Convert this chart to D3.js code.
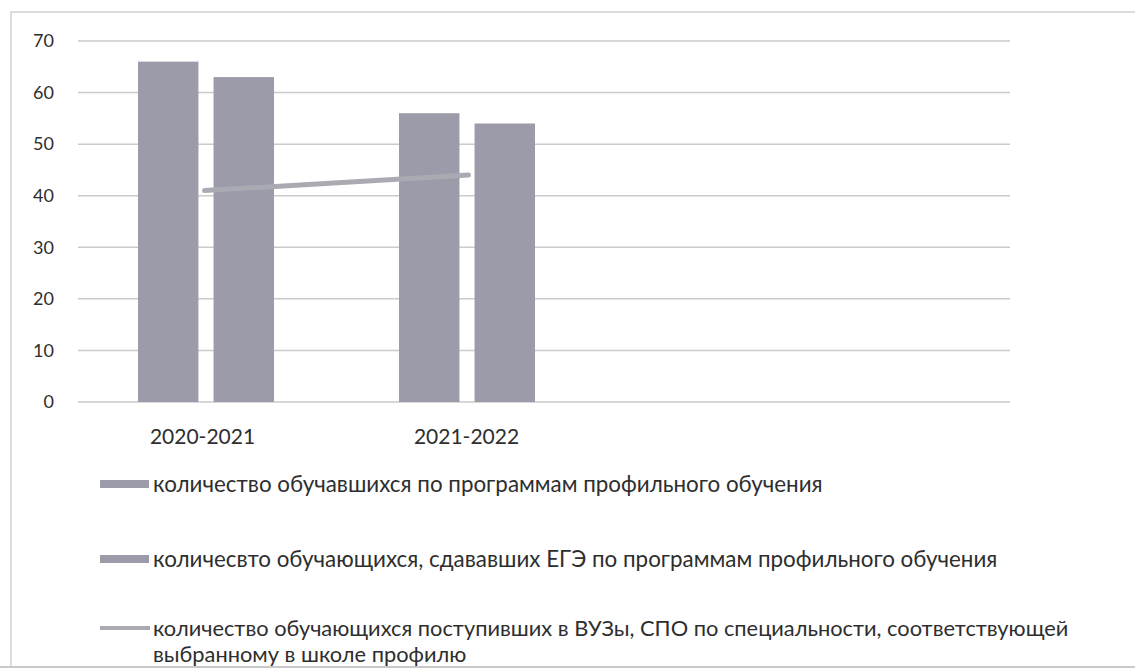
<!DOCTYPE html>
<html><head><meta charset="utf-8">
<script src="https://cdn.jsdelivr.net/npm/d3@7/dist/d3.min.js"></script>
<style>body{margin:0;background:#fff}svg{display:block}</style>
</head><body>
<svg id="c" width="1135" height="669"></svg>
<script>
const categories = ["2020-2021", "2021-2022"];
const seriesNames = [
  "количество обучавшихся по программам профильного обучения",
  "количесвто обучающихся, сдававших ЕГЭ по программам профильного обучения",
  "количество обучающихся поступивших в ВУЗы, СПО по специальности, соответствующей выбранному в школе профилю"
];
const studied = [66, 56];
const passedExam = [63, 54];
const enrolled = [41, 44];
const yTicks = [0, 10, 20, 30, 40, 50, 60, 70];

const svg = d3.select("#c");
const font = "Lato, 'Open Sans', sans-serif";
const barColor = "#9b9ba9", lineColor = "#aaaab3", gridColor = "#cbcbcb", textColor = "#2e2e2e";

const plotL = 75, plotR = 1010, bandW = 261;
const x = d3.scaleBand().domain(categories).range([plotL, plotL + bandW * categories.length]);
const y = d3.scaleLinear().domain([0, 70]).range([402, 41]);
const inner = d3.scaleBand().domain([0, 1]).range([63, bandW - 62]).paddingInner(0.2);

// gridlines
svg.append("g").selectAll("line").data(yTicks).join("line")
  .attr("x1", 78).attr("x2", plotR)
  .attr("y1", d => y(d)).attr("y2", d => y(d))
  .attr("stroke", gridColor).attr("stroke-width", 1.5);

// y axis labels
const yAxis = d3.axisLeft(y).tickValues(yTicks).tickSize(0).tickPadding(0);
const ya = svg.append("g").attr("transform", "translate(54,0)").call(yAxis);
ya.select(".domain").remove();
ya.selectAll("text").attr("font-family", font).attr("font-size", 18).attr("fill", textColor);

// bars
[studied, passedExam].forEach((vals, si) => {
  svg.append("g").selectAll("rect").data(categories).join("rect")
    .attr("x", d => x(d) + inner(si))
    .attr("width", inner.bandwidth())
    .attr("y", (d, i) => y(vals[i]))
    .attr("height", (d, i) => y(0) - y(vals[i]))
    .attr("fill", barColor);
});

// line
const line = d3.line().x((d, i) => x(categories[i]) + bandW / 2 + (i === 0 ? -1 : 2)).y(d => y(d));
svg.append("path").datum(enrolled).attr("d", line)
  .attr("fill", "none").attr("stroke", lineColor).attr("stroke-width", 5).attr("stroke-linecap", "round");

// x labels
const xAxis = d3.axisBottom(x).tickSize(0).tickPadding(0);
const xa = svg.append("g").attr("transform", "translate(0,437)").call(xAxis);
xa.select(".domain").remove();
xa.selectAll("text").attr("font-family", font).attr("font-size", 21).attr("fill", textColor).attr("dy", "0.35em")
  .attr("dx", (d, i) => i === 0 ? -3 : 0);

// legend
const lg = svg.append("g");
const legY = [484, 559, 628];
[0, 1].forEach(i => {
  lg.append("rect").attr("x", 100).attr("y", legY[i] - 4).attr("width", 49).attr("height", 8).attr("fill", barColor);
});
lg.append("line").attr("x1", 100).attr("x2", 150).attr("y1", legY[2]).attr("y2", legY[2]).attr("stroke", lineColor).attr("stroke-width", 4);
const legTexts = [
  [seriesNames[0]],
  [seriesNames[1]],
  ["количество обучающихся поступивших в ВУЗы, СПО по специальности, соответствующей", "выбранному в школе профилю"]
];
const texts = [];
legTexts.forEach((lines, i) => {
  lines.forEach((t, j) => {
    const el = lg.append("text").attr("x", 153).attr("y", legY[i] + j * 26).attr("dy", "0.35em")
      .attr("font-family", font).attr("font-size", 20).attr("fill", textColor).text(t);
    texts.push({ el, i });
  });
});
// fit legend font to the reference width of the first entry (≈670px)
const w0 = texts[0].el.node().getComputedTextLength();
const fs = 20 * 670 / w0;
texts.forEach(t => t.el.attr("font-size", t.i === 2 ? fs * 0.975 : fs));

// frame
svg.append("path").attr("d", "M11,667 L11,12 L1135,12").attr("fill", "none").attr("stroke", "#d2d2d2").attr("stroke-width", 1.5);
svg.append("line").attr("x1", 0).attr("x2", 1135).attr("y1", 667).attr("y2", 667).attr("stroke", "#c9c9c9").attr("stroke-width", 2);
</script>
</body></html>
